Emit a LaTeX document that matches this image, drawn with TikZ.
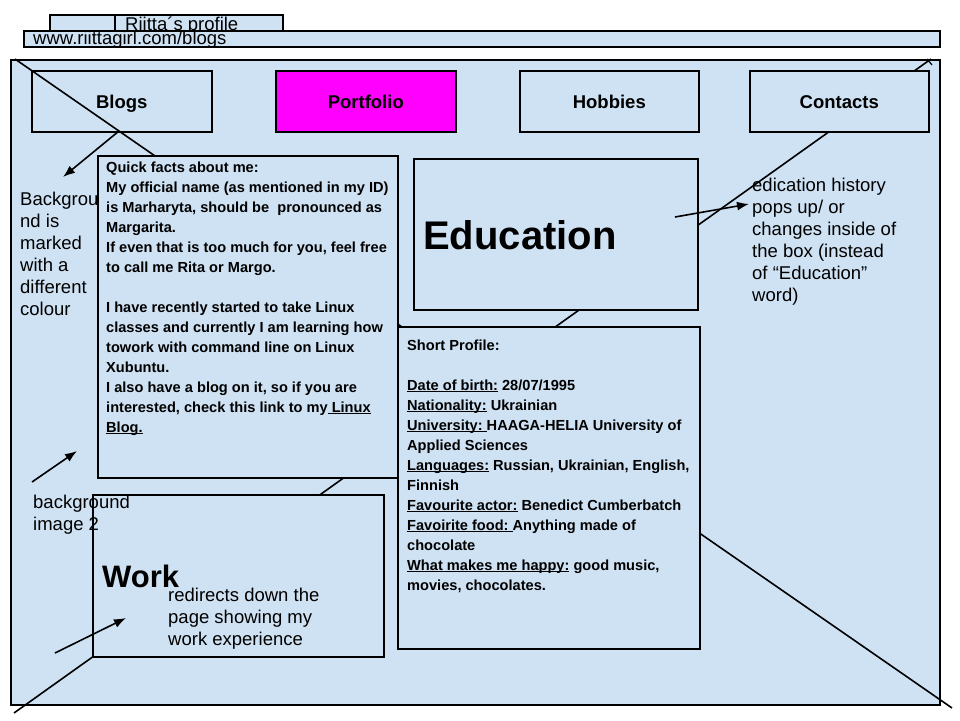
\documentclass[tikz,border=0pt]{standalone}
\usepackage{fontspec}
\setmainfont{Liberation Sans}
\usetikzlibrary{arrows.meta}
\definecolor{lb}{HTML}{CFE2F3}
\definecolor{mag}{HTML}{FF00FF}
\newsavebox\myulbox
\newcommand\myul[1]{\sbox\myulbox{#1}\rlap{\rule[-2.4pt]{\wd\myulbox}{1pt}}\usebox\myulbox}
\begin{document}
\begin{tikzpicture}[x=1pt,y=-1pt,
  box/.style={draw=black,line width=1.6pt,fill=lb,inner sep=0pt,anchor=north west},
  navbox/.style={box,minimum height=61pt,text height=15pt,text depth=0pt,font=\fontsize{18.5}{22}\selectfont\bfseries},
  note/.style={font=\fontsize{18.5}{22}\selectfont,anchor=base west,align=left,inner sep=0pt},
  body/.style={font=\fontsize{14.6}{20}\selectfont\bfseries,anchor=base west,align=left,inner sep=0pt},
  big/.style={anchor=base west,inner sep=0pt},
  xline/.style={line width=1.6pt},
  arr/.style={line width=1.6pt,-{Latex[length=12pt,width=9pt]}}]

\useasboundingbox[fill=white] (0,0) rectangle (960,720);

% browser tab and address bar
\node[box,minimum width=233pt,minimum height=16pt] (tab) at (49,14) {};
\draw[line width=1.6pt] ([xshift=66pt]tab.north west) -- ([xshift=66pt]tab.south west);
\node[note] (tabtxt) at (125,30) {Riitta´s profile};
\node[box,minimum width=916pt,minimum height=16pt] (url) at (23,30) {};
\node[note] (urltxt) at (33,44) {www.riittagirl.com/blogs};

% page
\node[box,minimum width=929pt,minimum height=645pt] (main) at (10,59) {};

\coordinate (l1a) at (15,59);
\coordinate (l1b) at (952,708);
\coordinate (l2a) at (14,713);
\coordinate (l2b) at (931,59);
\coordinate (tk1) at (927,59);
\coordinate (tk2) at (932,65);
\draw[xline] (l2a) -- (l2b);
\draw[line width=1.2pt] (tk1) -- (tk2);

% navigation
\node[navbox,minimum width=180pt] (blogs) at (31,70) {Blogs};
\node[navbox,minimum width=180pt,fill=mag] (portfolio) at (275,70) {Portfolio};
\node[navbox,minimum width=179pt] (hobbies) at (519,70) {Hobbies};
\node[navbox,minimum width=179pt] (contacts) at (749,70) {Contacts};

\draw[xline] (l1a) -- (l1b);

% left note (partly covered by the quick facts box); anchor = last baseline
\node[note] (bgnote) at (20,315) {Backgrou\\nd is\\marked\\with a\\different\\colour};

% content boxes
\node[box,minimum width=300pt,minimum height=322pt] (quick) at (97,155) {};
\node[box,minimum width=284pt,minimum height=151pt] (edu) at (413,158) {};
\node[box,minimum width=302pt,minimum height=322pt] (short) at (397,326) {};
\node[box,minimum width=291pt,minimum height=162pt] (work) at (92,494) {};

\node[body] (quicktxt) at (106,432) {Quick facts about me:\\
My official name (as mentioned in my ID)\\
is Marharyta, should be\ \ pronounced as\\
Margarita.\\
If even that is too much for you, feel free\\
to call me Rita or Margo.\\[20pt]
I have recently started to take Linux\\
classes and currently I am learning how\\
towork with command line on Linux\\
Xubuntu.\\
I also have a blog on it, so if you are\\
interested, check this link to my\myul{\ Linux}\\
\myul{Blog.}};

\node[big,font=\fontsize{40}{48}\selectfont\bfseries] (edutxt) at (423,249) {Education};

\node[body] (shorttxt) at (407,590) {Short Profile:\\[20pt]
\myul{Date of birth:} 28/07/1995\\
\myul{Nationality:} Ukrainian\\
\myul{University:\ }HAAGA-HELIA University of\\
Applied Sciences\\
\myul{Languages:} Russian, Ukrainian, English,\\
Finnish\\
\myul{Favourite actor:} Benedict Cumberbatch\\
\myul{Favoirite food:\ }Anything made of\\
chocolate\\
\myul{What makes me happy:} good music,\\
movies, chocolates.};

\node[big,font=\fontsize{31}{36}\selectfont\bfseries] (worktxt) at (102,587) {Work};
\node[note] (worknote) at (168,645) {redirects down the\\page showing my\\work experience};
\node[note] (bgimg) at (33,530) {background\\image 2};
\node[note] (edunote) at (752,301) {edication history\\pops up/ or\\changes inside of\\the box (instead\\of “Education”\\word)};

% arrows
\coordinate (a1s) at (119,131);
\coordinate (a1e) at (63,177);
\coordinate (a2s) at (32,482);
\coordinate (a2e) at (77,451);
\coordinate (a3s) at (55,653);
\coordinate (a3e) at (126,618);
\coordinate (a4s) at (675,217);
\coordinate (a4e) at (749,204);
\draw[arr] (a1s) -- (a1e);
\draw[arr] (a2s) -- (a2e);
\draw[arr] (a3s) -- (a3e);
\draw[arr] (a4s) -- (a4e);
\end{tikzpicture}
\end{document}
